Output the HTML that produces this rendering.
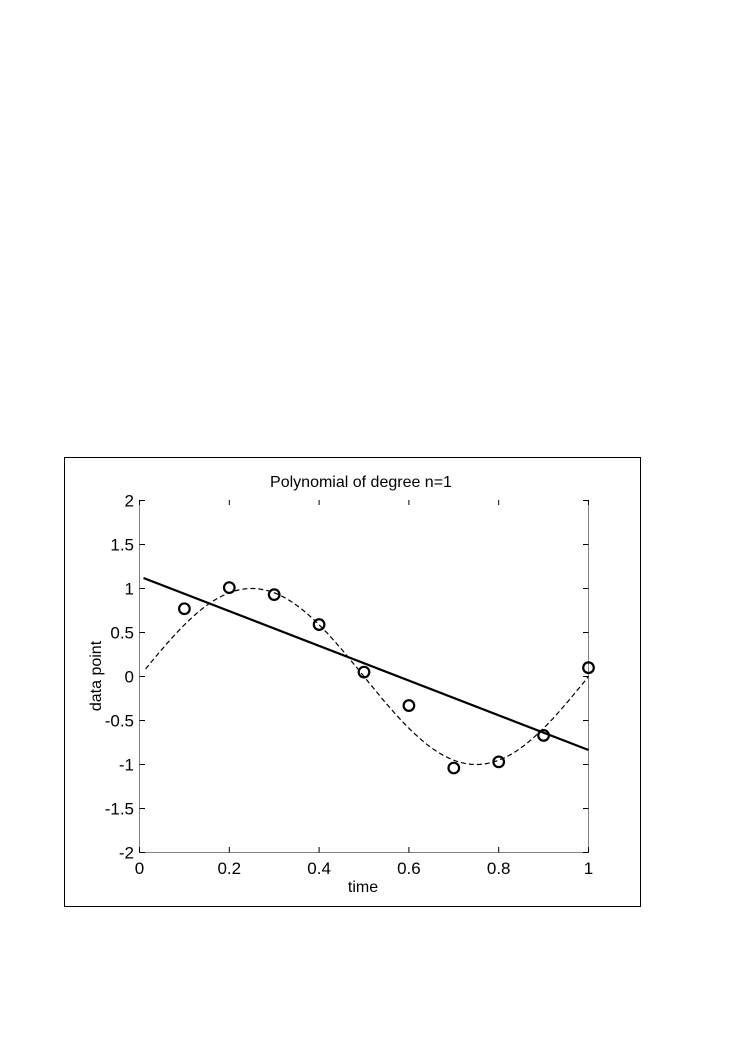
<!DOCTYPE html>
<html><head><meta charset="utf-8"><style>
body{margin:0;background:#fff;}
svg text{font-family:"Liberation Sans",Arial,sans-serif;fill:#000;}
</style></head><body>
<svg id="s" width="744" height="1042" xmlns="http://www.w3.org/2000/svg">
<rect x="64.5" y="457.5" width="576" height="449" fill="none" stroke="#000" stroke-width="1"/>
<g stroke="#808080" stroke-width="1" fill="none">
<path d="M139.5 500V852.5H588.5V500"/>
</g>
<g stroke="#000" stroke-width="1" id="ticks"></g>
<g font-size="17" text-anchor="end" id="yl"></g>
<g font-size="17" text-anchor="middle" id="xl"></g>
<text x="361" y="487" font-size="16" text-anchor="middle">Polynomial of degree n=1</text>
<text x="363" y="892" font-size="16" text-anchor="middle">time</text>
<text transform="translate(101,676) rotate(-90)" font-size="16" text-anchor="middle">data point</text>
<path id="sin" fill="none" stroke="#000" stroke-width="1.2" stroke-dasharray="5,3"/>
<line x1="143.5" y1="578" x2="588.5" y2="750" stroke="#000" stroke-width="2.2"/>
<g id="pts" fill="none" stroke="#000" stroke-width="2.2"></g>
</svg>
<script>
var X=t=>139.5+449*t, Y=v=>676.5-88*v;
var ns="http://www.w3.org/2000/svg";
function el(p,n,a,txt){var e=document.createElementNS(ns,n);for(var k in a)e.setAttribute(k,a[k]);if(txt!=null)e.textContent=txt;document.getElementById(p).appendChild(e);}
var yt=[2,1.5,1,0.5,0,-0.5,-1,-1.5,-2];
yt.forEach(v=>{var y=Y(v);el("ticks","line",{x1:139.5,x2:145,y1:y,y2:y});el("ticks","line",{x1:583,x2:588.5,y1:y,y2:y});el("yl","text",{x:134,y:y+6},String(v));});
[0,0.2,0.4,0.6,0.8,1].forEach(t=>{var x=X(t);el("ticks","line",{x1:x,x2:x,y1:852.5,y2:847});el("ticks","line",{x1:x,x2:x,y1:500,y2:505});el("xl","text",{x:x,y:874},String(t));});
var d="";for(var i=0;i<=200;i++){var t=0.0135+(1-0.0135)*i/200;d+=(i?"L":"M")+X(t).toFixed(1)+" "+Y(Math.sin(2*Math.PI*t)).toFixed(1);}
document.getElementById("sin").setAttribute("d",d);
[[0.1,0.77],[0.2,1.01],[0.3,0.93],[0.4,0.59],[0.5,0.05],[0.6,-0.33],[0.7,-1.04],[0.8,-0.97],[0.9,-0.67],[1.0,0.10]].forEach(p=>el("pts","circle",{cx:X(p[0]),cy:Y(p[1]),r:5.3}));
</script>
</body></html>
